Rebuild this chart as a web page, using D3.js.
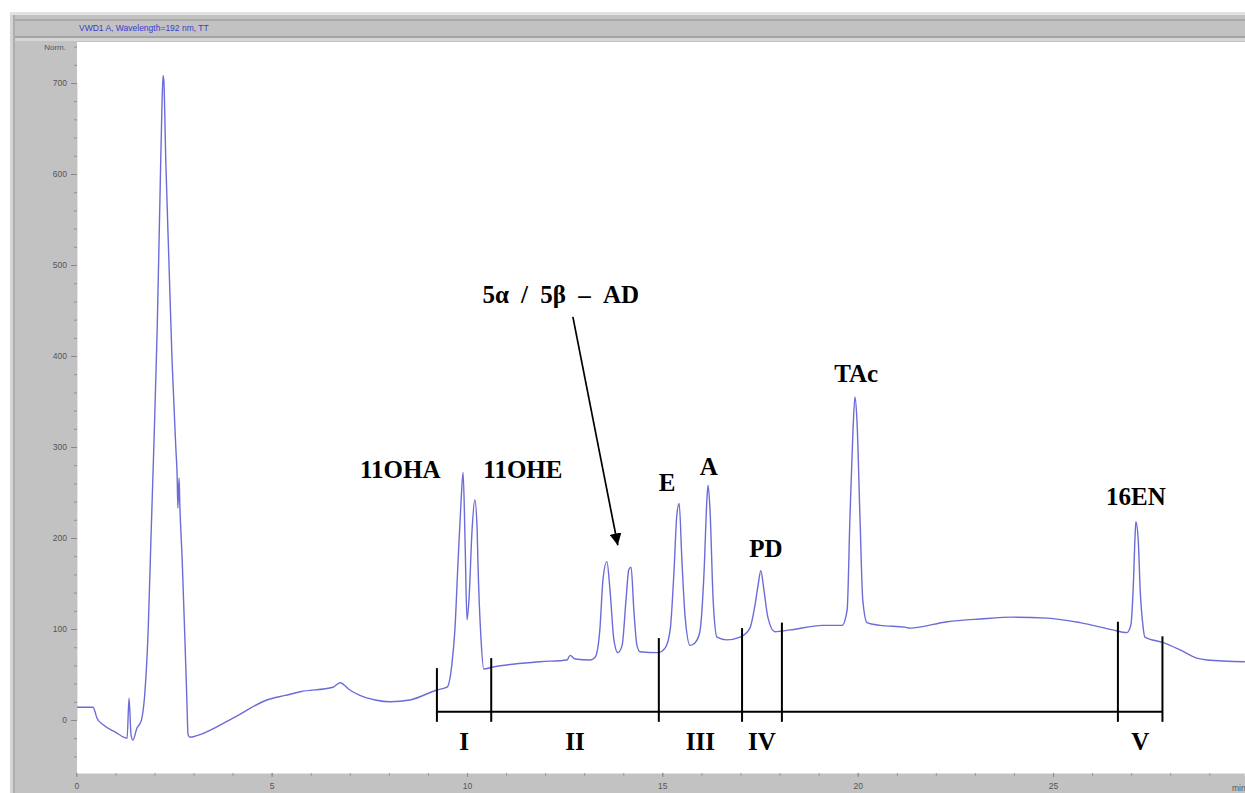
<!DOCTYPE html>
<html>
<head>
<meta charset="utf-8">
<script src="https://cdn.jsdelivr.net/npm/d3@7"></script>
<style>
  html, body { margin: 0; padding: 0; background: #ffffff; }
  svg { display: block; }
</style>
</head>
<body>
<svg id="chart" width="1245" height="793"></svg>
<script>
// Detector trace: retention time (min) and response (norm.)
const times = [
  0.02, 0.43, 0.53, 0.68, 0.99, 1.30, 1.35, 1.40, 1.45, 1.55, 1.66, 1.76, 1.84, 1.91, 1.99, 2.07, 2.14, 2.19, 2.22,
  2.24, 2.29, 2.37, 2.45, 2.55, 2.58, 2.60, 2.63, 2.65, 2.71, 2.78, 2.83, 2.86, 2.91, 3.17, 4.01, 4.88, 5.35, 5.73,
  6.57, 6.75, 7.00, 7.26, 7.65, 8.03, 8.54, 9.23, 9.49, 9.61, 9.69, 9.77, 9.85, 9.90, 9.95, 10.00, 10.05, 10.13,
  10.20, 10.26, 10.28, 10.36, 10.43, 10.64, 11.87, 12.56, 12.64, 12.77, 13.15, 13.28, 13.40, 13.48, 13.58, 13.66,
  13.76, 13.86, 13.97, 14.07, 14.14, 14.20, 14.27, 14.35, 14.43, 14.89, 15.07, 15.20, 15.30, 15.37, 15.43, 15.50,
  15.58, 15.71, 15.84, 15.96, 16.07, 16.14, 16.17, 16.22, 16.30, 16.40, 16.65, 16.99, 17.24, 17.37, 17.45, 17.52,
  17.60, 17.70, 17.88, 18.27, 19.11, 19.60, 19.73, 19.80, 19.88, 19.93, 19.98, 20.06, 20.13, 20.24, 20.57, 21.21,
  21.34, 22.29, 23.13, 23.98, 24.85, 25.69, 26.53, 26.89, 26.99, 27.05, 27.10, 27.12, 27.18, 27.23, 27.30, 27.35,
  27.82, 28.25, 28.68, 28.94, 29.91
];
const signal = [
  14, 14, 2, -5, -13, -20, 24, -16, -22, -9, -1, 33, 99, 198, 308, 429, 571, 670, 708,
  703, 615, 505, 396, 297, 270, 233, 266, 236, 176, 88, 22, -16, -19, -16, 2, 22, 27, 31,
  36, 41, 33, 27, 22, 20, 22, 33, 36, 60, 99, 173, 242, 272, 198, 110, 132, 209,
  242, 209, 173, 88, 56, 58, 64, 66, 71, 67, 66, 69, 99, 154, 174, 143,
  88, 74, 82, 132, 165, 168, 121, 82, 75, 74, 79, 99, 165, 225, 238, 176,
  115, 82, 85, 97, 165, 242, 258, 231, 132, 91, 88, 91, 101, 126, 148, 164,
  143, 113, 97, 99, 104, 104, 121, 220, 319, 355, 330, 220, 132, 107, 104, 102,
  101, 108, 111, 113, 112, 107, 99, 96, 104, 143, 203, 218, 198, 143, 104, 91,
  85, 77, 68, 66, 64
];

// Axis ticks
const xTickLabels = [0, 5, 10, 15, 20, 25];
const yTickLabels = [0, 100, 200, 300, 400, 500, 600, 700];

// Compound labels above the peaks
const peakNames = ["11OHA", "11OHE", "E", "A", "PD", "TAc", "16EN"];
const peakLabelTimes = [8.29, 11.43, 15.12, 16.19, 17.65, 19.96, 27.12];
const peakLabelValues = [266, 266, 252, 269, 179, 371, 236];

// Unresolved pair with a pointer arrow
const pairName = "5α / 5β – AD";
const pairLabelTime = 12.40;
const pairLabelValue = 458;
const pairArrowFrom = [12.71, 443];
const pairArrowTo = [13.86, 192];

// Collection windows
const regionNames = ["I", "II", "III", "IV", "V"];
const regionStarts = [9.23, 10.62, 14.91, 17.04, 26.66];
const regionEnds = [10.62, 14.91, 17.04, 18.06, 27.80];
const regionEdgeTimes = [9.23, 10.62, 14.91, 17.04, 18.06, 26.66, 27.80];
const regionEdgeTops = [57, 68, 90, 101, 107, 108, 92];
const regionBarValue = 9;
const regionEdgeBottom = -2;
const regionLabelValue = -33;

const svg = d3.select("#chart");
const W = 1245, H = 793;
const plot = { left: 77, top: 42, right: 1245, bottom: 773 };

// Instrument-style frame
svg.append("rect").attr("x", 10).attr("y", 12).attr("width", W - 10).attr("height", H - 12).attr("fill", "#c2c2c2");
svg.append("rect").attr("x", 10).attr("y", 12).attr("width", W - 10).attr("height", 3).attr("fill", "#e2e2e2");
svg.append("rect").attr("x", 10).attr("y", 19).attr("width", W - 10).attr("height", 2).attr("fill", "#a9a9a9");
svg.append("rect").attr("x", 10).attr("y", 36).attr("width", W - 10).attr("height", 2).attr("fill", "#a4a4a4");
svg.append("rect").attr("x", 10).attr("y", 38).attr("width", W - 10).attr("height", 3).attr("fill", "#d6d6d6");
svg.append("rect").attr("x", 10).attr("y", 15).attr("width", 3).attr("height", H - 15).attr("fill", "#d4d4d4");
svg.append("rect").attr("x", 13).attr("y", 15).attr("width", 2).attr("height", H - 15).attr("fill", "#adadad");

svg.append("text")
  .attr("x", 79).attr("y", 31)
  .attr("font-family", "Liberation Sans, Arial, sans-serif")
  .attr("font-size", 8.5)
  .attr("fill", "#3a3acc")
  .text("VWD1 A, Wavelength=192 nm, TT");

svg.append("rect")
  .attr("x", plot.left).attr("y", plot.top)
  .attr("width", plot.right - plot.left).attr("height", plot.bottom - plot.top)
  .attr("fill", "#ffffff");

const x = d3.scaleLinear().domain([0, 29.9]).range([76.3, 76.3 + 39.07 * 29.9]);
const y = d3.scaleLinear().domain([0, 700]).range([720, 83]);

// Y axis (ticks into the grey panel)
const yAxis = d3.axisLeft(y).tickValues(d3.range(-40, 741, 20)).tickSize(3).tickFormat("");
const gy = svg.append("g").attr("transform", `translate(${plot.left},0)`).call(yAxis);
gy.select(".domain").attr("stroke", "#e6e6e6");
gy.selectAll(".tick line").attr("stroke", "#8f8f8f");
const gyMajor = svg.append("g").attr("transform", `translate(${plot.left},0)`)
  .call(d3.axisLeft(y).tickValues(yTickLabels).tickSize(6).tickPadding(4));
gyMajor.select(".domain").remove();
gyMajor.selectAll(".tick line").attr("stroke", "#8a8a8a");
gyMajor.selectAll(".tick text")
  .attr("font-family", "Liberation Sans, Arial, sans-serif")
  .attr("font-size", 8.5).attr("fill", "#555");

svg.append("text")
  .attr("x", 66).attr("y", 50).attr("text-anchor", "end")
  .attr("font-family", "Liberation Sans, Arial, sans-serif")
  .attr("font-size", 8).attr("fill", "#555")
  .text("Norm.");

// X axis (ticks into the grey band)
const gx = svg.append("g").attr("transform", `translate(0,${plot.bottom})`)
  .call(d3.axisBottom(x).tickValues(d3.range(0, 30, 1)).tickSize(3).tickFormat(""));
gx.select(".domain").attr("stroke", "#e2e2e2");
gx.selectAll(".tick line").attr("stroke", "#9a9a9a");
const gxMajor = svg.append("g").attr("transform", `translate(0,${plot.bottom})`)
  .call(d3.axisBottom(x).tickValues(xTickLabels).tickSize(4).tickPadding(6));
gxMajor.select(".domain").remove();
gxMajor.selectAll(".tick line").attr("stroke", "#8a8a8a");
gxMajor.selectAll(".tick text")
  .attr("font-family", "Liberation Sans, Arial, sans-serif")
  .attr("font-size", 8.5).attr("fill", "#555");
svg.append("text")
  .attr("x", 1232).attr("y", 791)
  .attr("font-family", "Liberation Sans, Arial, sans-serif")
  .attr("font-size", 8.5).attr("fill", "#555")
  .text("min");

// Trace
svg.append("clipPath").attr("id", "plotClip").append("rect")
  .attr("x", plot.left).attr("y", plot.top)
  .attr("width", plot.right - plot.left).attr("height", plot.bottom - plot.top);

const points = times.map((t, i) => [t, signal[i]]);
const line = d3.line().x(d => x(d[0])).y(d => y(d[1])).curve(d3.curveMonotoneX);
svg.append("path")
  .datum(points)
  .attr("clip-path", "url(#plotClip)")
  .attr("fill", "none")
  .attr("stroke", "#6c6cd8")
  .attr("stroke-width", 1.4)
  .attr("stroke-linejoin", "round")
  .attr("d", line);

// Collection windows
const ann = svg.append("g").attr("stroke", "#000").attr("stroke-width", 2);
ann.append("line")
  .attr("x1", x(regionEdgeTimes[0])).attr("x2", x(regionEdgeTimes[regionEdgeTimes.length - 1]))
  .attr("y1", y(regionBarValue)).attr("y2", y(regionBarValue));
regionEdgeTimes.forEach((t, i) => {
  ann.append("line")
    .attr("x1", x(t)).attr("x2", x(t))
    .attr("y1", y(regionEdgeTops[i])).attr("y2", y(regionEdgeBottom));
});

const serif = "Liberation Serif, 'Times New Roman', serif";
regionNames.forEach((name, i) => {
  svg.append("text")
    .attr("x", x((regionStarts[i] + regionEnds[i]) / 2))
    .attr("y", y(regionLabelValue))
    .attr("text-anchor", "middle")
    .attr("font-family", serif).attr("font-weight", "bold").attr("font-size", 25)
    .attr("fill", "#000")
    .text(name);
});

// Peak labels
peakNames.forEach((name, i) => {
  svg.append("text")
    .attr("x", x(peakLabelTimes[i]))
    .attr("y", y(peakLabelValues[i]))
    .attr("text-anchor", "middle")
    .attr("font-family", serif).attr("font-weight", "bold").attr("font-size", 25)
    .attr("fill", "#000")
    .text(name);
});

// Pointer for the 5α / 5β pair
svg.append("defs").append("marker")
  .attr("id", "arrowHead")
  .attr("viewBox", "0 0 10 10")
  .attr("refX", 10).attr("refY", 5)
  .attr("markerWidth", 7).attr("markerHeight", 7)
  .attr("markerUnits", "strokeWidth")
  .attr("orient", "auto")
  .append("path").attr("d", "M0,0 L10,5 L0,10 Z").attr("fill", "#000");

svg.append("line")
  .attr("x1", x(pairArrowFrom[0])).attr("y1", y(pairArrowFrom[1]))
  .attr("x2", x(pairArrowTo[0])).attr("y2", y(pairArrowTo[1]))
  .attr("stroke", "#000").attr("stroke-width", 1.7)
  .attr("marker-end", "url(#arrowHead)");

svg.append("text")
  .attr("x", x(pairLabelTime))
  .attr("y", y(pairLabelValue))
  .attr("text-anchor", "middle")
  .attr("font-family", serif).attr("font-weight", "bold").attr("font-size", 25)
  .attr("word-spacing", 6)
  .attr("fill", "#000")
  .text(pairName);
</script>
</body>
</html>
